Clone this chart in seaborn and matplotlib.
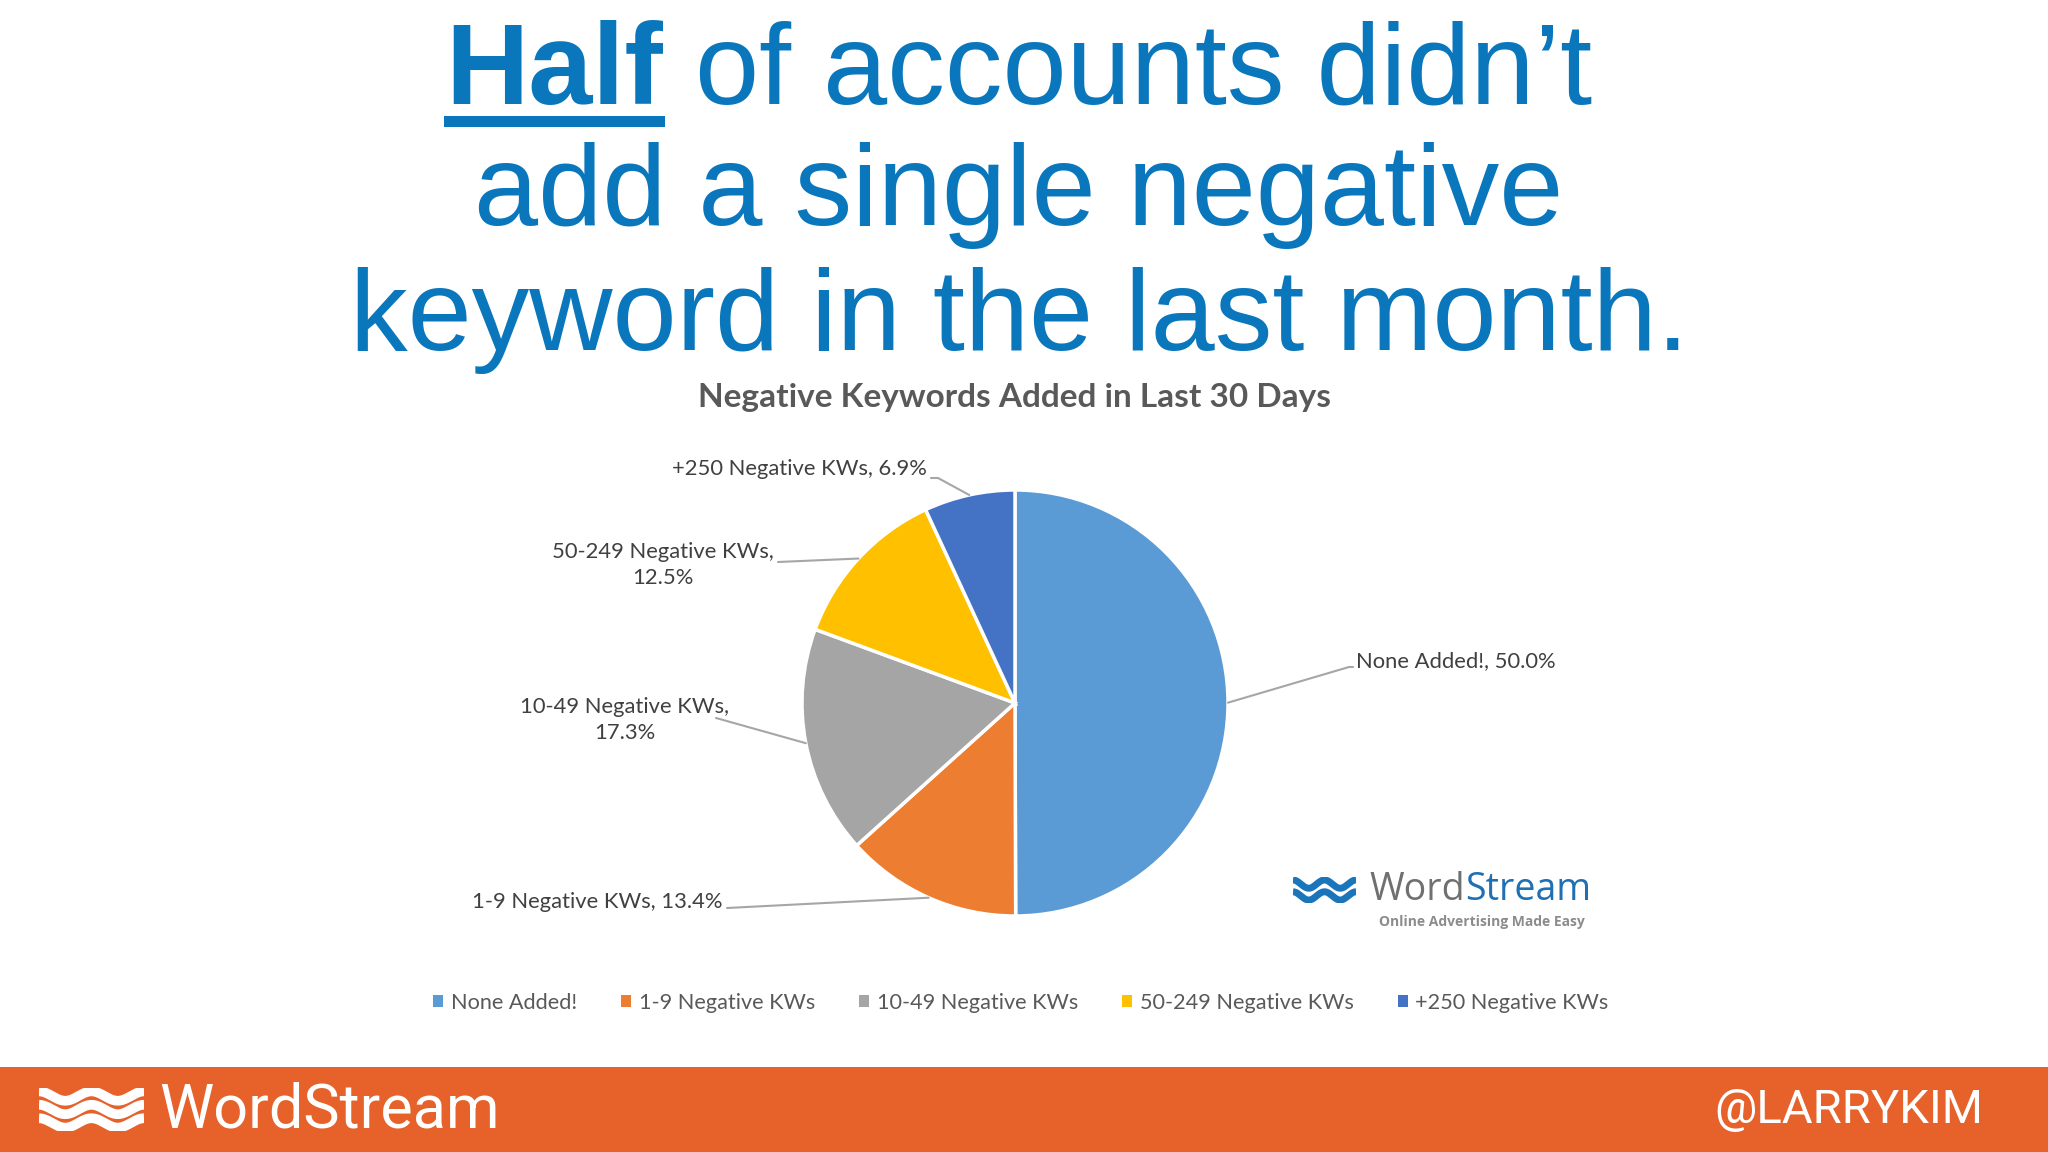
import matplotlib
matplotlib.use("Agg")
import matplotlib.pyplot as plt
import numpy as np
import seaborn as sns
from matplotlib.patches import Patch, Rectangle

# chart data
categories = ["None Added!", "1-9 Negative KWs", "10-49 Negative KWs",
              "50-249 Negative KWs", "+250 Negative KWs"]
shares = [50.0, 13.4, 17.3, 12.5, 6.9]
palette = ["#5B9BD5", "#ED7D31", "#A5A5A5", "#FFC000", "#4472C4"]

W, H = 2048, 1152
BLUE = "#0A77BD"

sns.set_theme(style="white")
plt.rcParams["font.family"] = ["Lato", "DejaVu Sans"]


def fx(px):
    return px / W


def fy(py):
    return 1 - py / H


fig = plt.figure(figsize=(W / 100, H / 100), dpi=100)
fig.patch.set_facecolor("white")
renderer = fig.canvas.get_renderer()


def composite(parts, xc, base_py, **common):
    texts = []
    for s, kw in parts:
        t = fig.text(0, fy(base_py), s, ha="left", va="baseline", **common, **kw)
        texts.append(t)
    widths = [t.get_window_extent(renderer).width for t in texts]
    x = xc - sum(widths) / 2
    spans = []
    for t, w in zip(texts, widths):
        t.set_x(fx(x))
        spans.append((x, w))
        x += w
    return spans


# headline
title_kw = dict(family=["Liberation Sans", "DejaVu Sans"], fontsize=83, color=BLUE)
spans = composite([("Half", dict(fontweight="bold")), (" of accounts didn\u2019t", {})],
                  1019, 104, **title_kw)
hx, hw = spans[0]
fig.add_artist(Rectangle((fx(hx - 2), fy(127)), (hw + 4) / W, 11 / H,
                         transform=fig.transFigure, color=BLUE, lw=0))
fig.text(fx(1019), fy(225), "add a single negative", ha="center", va="baseline", **title_kw)
fig.text(fx(1019), fy(350), "keyword in the last month.", ha="center", va="baseline", **title_kw)

# chart title
fig.text(fx(1015), fy(397), "Negative Keywords Added in Last 30 Days", ha="center",
         va="center", fontsize=24, fontweight="bold", color="#595959")

# pie
cx, cy, R = 1015, 703, 213
ax = fig.add_axes([fx(cx - R), fy(cy + R), 2 * R / W, 2 * R / H])
wedges, _ = ax.pie(shares, colors=palette, startangle=90, counterclock=False, radius=1,
                   wedgeprops=dict(edgecolor="white", linewidth=2.5))
ax.set_xlim(-1, 1)
ax.set_ylim(-1, 1)
ax.set_aspect("equal")
ax.axis("off")


def d(px, py):
    return (px - cx) / R, (cy - py) / R


# label layout: text anchor, ha, line elbow, line tail, multi-line
layout = [
    ((1356, 661), "left", (1349, 667), (1353, 667), False),
    ((723, 902), "right", (727, 908), (727, 908), False),
    ((625, 720), "center", (716, 718), (716, 718), True),
    ((663, 565), "center", (778, 562), (778, 562), True),
    ((927, 469), "right", (938, 478), (931, 478), False),
]
for w, cat, val, (tp, ha, elbow, tail, multi) in zip(wedges, categories, shares, layout):
    ang = np.deg2rad((w.theta1 + w.theta2) / 2)
    sx, sy = np.cos(ang), np.sin(ang)
    ex, ey = d(*elbow)
    tx, ty = d(*tail)
    ax.plot([sx, ex, tx], [sy, ey, ty], color="#A6A6A6", lw=1.5, clip_on=False)
    sep = ",\n" if multi else ", "
    lx, ly = d(*tp)
    ax.text(lx, ly, f"{cat}{sep}{val:.1f}%", ha=ha, va="center", fontsize=15.8,
            color="#404040", linespacing=1.4, multialignment="center", clip_on=False)

# legend
handles = [Patch(facecolor=c, edgecolor="none") for c in palette]
fig.legend(handles, categories, ncol=5, loc="center", bbox_to_anchor=(fx(1021), fy(1003)),
           frameon=False, fontsize=15.6, handlelength=0.45, handleheight=0.45,
           handletextpad=0.35, columnspacing=2.05, labelcolor="#595959")

# WordStream logo inside the chart
lax = fig.add_axes([fx(1293), fy(903), 63 / W, 26 / H])
xs = np.linspace(0, 2, 200)
for off in (0.0, 1.0):
    lax.plot(xs, 0.35 * np.cos(2 * np.pi * xs) - off, color="#1B75BB", lw=5,
             solid_capstyle="butt")
lax.set_xlim(0, 2)
lax.set_ylim(-1.6, 0.6)
lax.axis("off")
composite([("Word", dict(color="#707070")), ("Stream", dict(color="#1E6FB3"))],
          1480, 900, family=["Open Sans", "DejaVu Sans"], fontsize=27)
fig.text(fx(1482), fy(922), "Online Advertising Made Easy", ha="center", va="center",
         family=["Open Sans", "DejaVu Sans"], fontsize=10, fontweight="bold", color="#8C8C8C")

# footer bar
fig.add_artist(Rectangle((0, 0), 1, (H - 1067) / H, transform=fig.transFigure,
                         color="#E6622A", lw=0, zorder=0))
fax = fig.add_axes([fx(39), fy(1131), 105 / W, 43 / H])
fax.set_zorder(5)
for off in (0.0, 1.0, 2.0):
    fax.plot(xs, 0.35 * np.cos(2 * np.pi * xs) - off, color="white", lw=7,
             solid_capstyle="butt")
fax.set_xlim(0, 2)
fax.set_ylim(-2.6, 0.6)
fax.axis("off")
fig.text(fx(159), fy(1110), "WordStream", ha="left", va="center",
         family=["Roboto", "DejaVu Sans"], fontsize=44, color="white")
fig.text(fx(1983), fy(1110), "@LARRYKIM", ha="right", va="center",
         family=["Roboto", "DejaVu Sans"], fontsize=34, color="white")

fig.savefig("out.png", dpi=100, facecolor=fig.get_facecolor())
